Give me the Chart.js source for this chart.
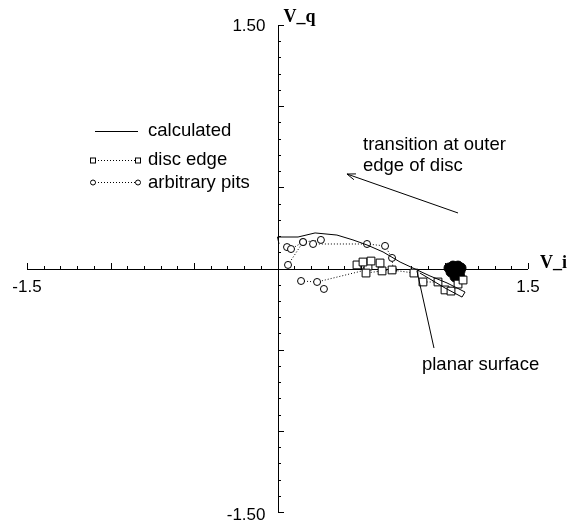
<!DOCTYPE html>
<html>
<head>
<meta charset="utf-8">
<script src="https://cdn.jsdelivr.net/npm/chart.js@4"></script>
<style>
  html, body { margin: 0; padding: 0; background: #fff; }
  canvas { display: block; }
</style>
</head>
<body>
<canvas id="chart" width="570" height="523"></canvas>
<script>
// values (V_i, V_q)
var calcX = [0.009, 0.0, 0.123, 0.225, 0.356, 0.452, 0.536, 0.632, 0.734, 0.811, 0.913, 1.015, 1.123, 1.105, 1.003, 0.853];
var calcY = [0.151, 0.194, 0.194, 0.219, 0.206, 0.176, 0.145, 0.102, 0.040, 0.003, -0.046, -0.089, -0.145, -0.176, -0.120, -0.028];

var discAX = [0.476, 0.512, 0.560, 0.614];
var discAY = [0.022, 0.040, 0.046, 0.034];
var discBX = [0.542, 0.530, 0.626, 0.686, 0.817, 0.871, 0.961, 1.003, 1.039, 1.081, 1.111];
var discBY = [0.015, -0.028, -0.015, -0.009, -0.028, -0.083, -0.083, -0.132, -0.139, -0.096, -0.071];

var pitsAX = [0.057, 0.081, 0.153, 0.260, 0.213, 0.536, 0.644, 0.686, 0.692];
var pitsAY = [0.132, 0.120, 0.163, 0.176, 0.151, 0.151, 0.139, 0.065, -0.009];
var pitsBX = [0.063, 0.153];
var pitsBY = [0.022, 0.163];
var pitsCX = [0.141, 0.237, 0.530];
var pitsCY = [-0.077, -0.083, -0.009];
var pitsDX = [0.278, 0.536];
var pitsDY = [-0.126, 0.034];

// dense overlapping markers near the planar surface
var blobX = [1.027, 1.051, 1.081, 1.099, 1.039, 1.069, 1.093, 1.063, 1.093];
var blobY = [0.003, 0.015, 0.015, 0.003, -0.022, -0.028, -0.015, -0.052, -0.052];

var axisMin = -1.5, axisMax = 1.5, tickStep = 0.1;

function pts(xs, ys) {
    return xs.map(function (x, i) { return { x: x, y: ys[i] }; });
}

function dotted(label, xs, ys, style, r) {
    return {
        label: label,
        data: pts(xs, ys),
        showLine: true,
        borderColor: '#000',
        borderWidth: 1,
        borderDash: [1, 2],
        pointStyle: style,
        pointRadius: r,
        pointBorderWidth: 1,
        pointBorderColor: '#000',
        pointBackgroundColor: '#fff'
    };
}

var sans = '"Liberation Sans", Arial, sans-serif';

var axesPlugin = {
    id: 'axes',
    beforeDatasetsDraw: function (chart) {
        var ctx = chart.ctx, xs = chart.scales.x, ys = chart.scales.y;
        var x0 = xs.getPixelForValue(0), y0 = ys.getPixelForValue(0);
        var xl = xs.getPixelForValue(axisMin), xr = xs.getPixelForValue(axisMax);
        var yt = ys.getPixelForValue(axisMax), yb = ys.getPixelForValue(axisMin);
        ctx.save();
        ctx.strokeStyle = '#000';
        ctx.lineWidth = 1;
        ctx.beginPath();
        ctx.moveTo(xl, Math.round(y0) + 0.5);
        ctx.lineTo(xr, Math.round(y0) + 0.5);
        ctx.moveTo(Math.round(x0) + 0.5, yt);
        ctx.lineTo(Math.round(x0) + 0.5, yb);
        for (var i = 0; i <= 30; i++) {
            var v = axisMin + i * tickStep;
            var major = i % 5 === 0;
            var len = major ? 6 : 3;
            var px = Math.round(xs.getPixelForValue(v)) + 0.5;
            ctx.moveTo(px, Math.round(y0));
            ctx.lineTo(px, Math.round(y0) - len);
            var py = Math.round(ys.getPixelForValue(v)) + 0.5;
            ctx.moveTo(Math.round(x0), py);
            ctx.lineTo(Math.round(x0) + len, py);
        }
        ctx.stroke();

        ctx.fillStyle = '#000';
        ctx.font = '17px ' + sans;
        ctx.textBaseline = 'middle';
        ctx.textAlign = 'center';
        ctx.fillText('-1.5', xl, y0 + 19);
        ctx.fillText('1.5', xr, y0 + 19);
        ctx.textAlign = 'right';
        ctx.fillText('1.50', x0 - 12, yt + 1);
        ctx.fillText('-1.50', x0 - 12, yb + 3);

        ctx.font = 'bold 18px "Liberation Serif", "Times New Roman", serif';
        ctx.textAlign = 'left';
        ctx.fillText('V_q', x0 + 6, yt - 8);
        ctx.fillText('V_i', xr + 12, y0 - 5);
        ctx.restore();
    },
    afterDatasetsDraw: function (chart) {
        var ctx = chart.ctx, xs = chart.scales.x, ys = chart.scales.y;
        function P(x, y) { return [xs.getPixelForValue(x), ys.getPixelForValue(y)]; }
        ctx.save();
        ctx.strokeStyle = '#000';
        ctx.fillStyle = '#000';
        ctx.lineWidth = 1;

        // arrow to the outer disc edge
        var t = P(1.081, 0.342), h = P(0.416, 0.582);
        ctx.beginPath();
        ctx.moveTo(t[0], t[1]);
        ctx.lineTo(h[0], h[1]);
        var a = Math.atan2(h[1] - t[1], h[0] - t[0]);
        ctx.moveTo(h[0], h[1]);
        ctx.lineTo(h[0] - 9 * Math.cos(a - 0.35), h[1] - 9 * Math.sin(a - 0.35));
        ctx.moveTo(h[0], h[1]);
        ctx.lineTo(h[0] - 9 * Math.cos(a + 0.35), h[1] - 9 * Math.sin(a + 0.35));
        // pointer to the planar surface
        var p1 = P(0.835, -0.015), p2 = P(0.937, -0.490);
        ctx.moveTo(p1[0], p1[1]);
        ctx.lineTo(p2[0], p2[1]);
        ctx.stroke();

        ctx.font = '18.5px ' + sans;
        ctx.textBaseline = 'middle';
        ctx.textAlign = 'left';
        var l1 = P(0.512, 0.761), l2 = P(0.512, 0.632), l3 = P(0.865, -0.595);
        ctx.fillText('transition at outer', l1[0], l1[1]);
        ctx.fillText('edge of disc', l2[0], l2[1]);
        ctx.fillText('planar surface', l3[0], l3[1]);

        // legend
        ctx.beginPath();
        ctx.moveTo(95, 131.5);
        ctx.lineTo(138, 131.5);
        ctx.stroke();
        ctx.setLineDash([1, 2]);
        ctx.beginPath();
        ctx.moveTo(95, 160.5);
        ctx.lineTo(135, 160.5);
        ctx.moveTo(95, 182.5);
        ctx.lineTo(135, 182.5);
        ctx.stroke();
        ctx.setLineDash([]);
        ctx.fillStyle = '#fff';
        [93, 138].forEach(function (cx) {
            ctx.fillRect(cx - 2.5, 158, 5, 5);
            ctx.strokeRect(cx - 2.5, 158, 5, 5);
            ctx.beginPath();
            ctx.arc(cx, 182.5, 2.5, 0, Math.PI * 2);
            ctx.fill();
            ctx.stroke();
        });
        ctx.fillStyle = '#000';
        ctx.fillText('calculated', 148, 131);
        ctx.fillText('disc edge', 148, 160);
        ctx.fillText('arbitrary pits', 148, 183);
        ctx.restore();
    }
};

new Chart(document.getElementById('chart'), {
    type: 'scatter',
    data: {
        datasets: [
            {
                label: 'calculated',
                data: pts(calcX, calcY),
                showLine: true,
                borderColor: '#000',
                borderWidth: 1,
                pointRadius: 0,
                tension: 0
            },
            dotted('disc edge', discAX, discAY, 'rect', 5.5),
            dotted('disc edge', discBX, discBY, 'rect', 5.5),
            dotted('arbitrary pits', pitsAX, pitsAY, 'circle', 3.5),
            dotted('arbitrary pits', pitsBX, pitsBY, 'circle', 3.5),
            dotted('arbitrary pits', pitsCX, pitsCY, 'circle', 3.5),
            {
                label: 'arbitrary pits',
                data: pts(pitsDX, pitsDY),
                showLine: false,
                pointStyle: 'circle',
                pointRadius: 3.5,
                pointBorderWidth: 1,
                pointBorderColor: '#000',
                pointBackgroundColor: '#fff'
            },
            {
                label: 'cluster',
                data: pts(blobX, blobY),
                showLine: false,
                pointStyle: 'circle',
                pointRadius: 5,
                pointBorderColor: '#000',
                pointBackgroundColor: '#000'
            }
        ]
    },
    options: {
        responsive: false,
        animation: false,
        layout: { padding: { left: 27, right: 42, top: 25, bottom: 11 } },
        plugins: { legend: { display: false }, tooltip: { enabled: false } },
        scales: {
            x: { type: 'linear', min: axisMin, max: axisMax, display: false },
            y: { type: 'linear', min: axisMin, max: axisMax, display: false }
        }
    },
    plugins: [axesPlugin]
});
</script>
</body>
</html>
